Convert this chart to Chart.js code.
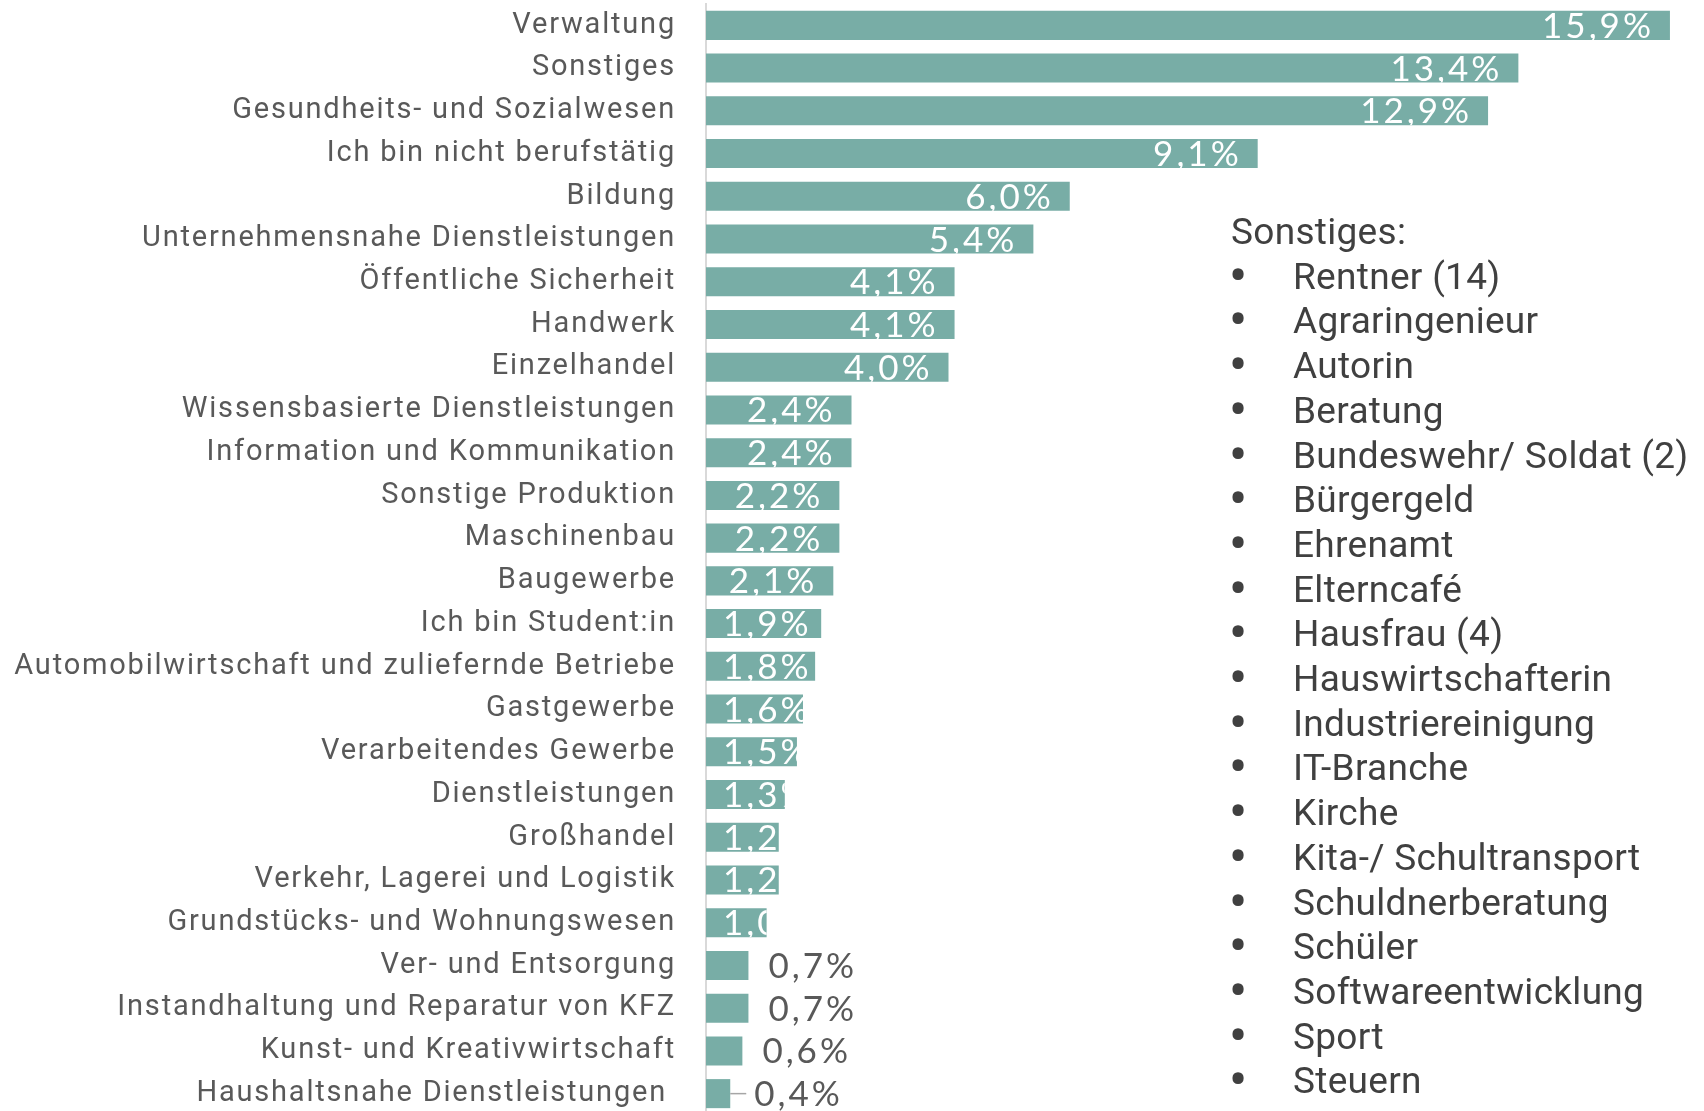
<!DOCTYPE html>
<html lang="de">
<head>
<meta charset="utf-8">
<title>Branchen</title>
<script src="https://cdn.jsdelivr.net/npm/chart.js@4.4.1/dist/chart.umd.min.js"></script>
<style>
  html, body { margin: 0; padding: 0; background: #fff; overflow: hidden; }
  #wrap { position: relative; width: 1704px; height: 1111px; }
  #chart { position: absolute; left: 0; top: 0; }
  #sonst {
    position: absolute; left: 1231px; top: 210px;
    font-family: Roboto, sans-serif; font-size: 37px; line-height: 44.7px;
    letter-spacing: 0.3px; color: #404040; white-space: nowrap;
  }
  #sonst .item { position: relative; padding-left: 62px; }
  #sonst .dot { position: absolute; left: 1px; display: inline-block; transform: scale(1.5); }
</style>
</head>
<body>
<div id="wrap">
  <canvas id="chart" width="1704" height="1118"></canvas>
  <div id="sonst"></div>
</div>
<script>
// Branchen, Anteil in %
const categories = [
  "Verwaltung",
  "Sonstiges",
  "Gesundheits- und Sozialwesen",
  "Ich bin nicht berufstätig",
  "Bildung",
  "Unternehmensnahe Dienstleistungen",
  "Öffentliche Sicherheit",
  "Handwerk",
  "Einzelhandel",
  "Wissensbasierte Dienstleistungen",
  "Information und Kommunikation",
  "Sonstige Produktion",
  "Maschinenbau",
  "Baugewerbe",
  "Ich bin Student:in",
  "Automobilwirtschaft und zuliefernde Betriebe",
  "Gastgewerbe",
  "Verarbeitendes Gewerbe",
  "Dienstleistungen",
  "Großhandel",
  "Verkehr, Lagerei und Logistik",
  "Grundstücks- und Wohnungswesen",
  "Ver- und Entsorgung",
  "Instandhaltung und Reparatur von KFZ",
  "Kunst- und Kreativwirtschaft",
  "Haushaltsnahe Dienstleistungen "
];
const shares = [15.9, 13.4, 12.9, 9.1, 6.0, 5.4, 4.1, 4.1, 4.0, 2.4, 2.4, 2.2, 2.2, 2.1,
                1.9, 1.8, 1.6, 1.5, 1.3, 1.2, 1.2, 1.0, 0.7, 0.7, 0.6, 0.4];

const otherTitle = "Sonstiges:";
const otherItems = [
  "Rentner (14)", "Agraringenieur", "Autorin", "Beratung", "Bundeswehr/ Soldat (2)",
  "Bürgergeld", "Ehrenamt", "Elterncafé", "Hausfrau (4)", "Hauswirtschafterin",
  "Industriereinigung", "IT-Branche", "Kirche", "Kita-/ Schultransport",
  "Schuldnerberatung", "Schüler", "Softwareentwicklung", "Sport", "Steuern"
];

const BAR = "#78ada6";
const GREY = "#595959";

// Sonstiges-Liste rechts als echter Text
const box = document.getElementById("sonst");
const head = document.createElement("div");
head.textContent = otherTitle;
box.appendChild(head);
otherItems.forEach(t => {
  const row = document.createElement("div");
  row.className = "item";
  const dot = document.createElement("span");
  dot.className = "dot";
  dot.textContent = "•";
  row.appendChild(dot);
  row.appendChild(document.createTextNode(t));
  box.appendChild(row);
});

const fmt = v => v.toFixed(1).replace(".", ",") + "%";

// Achsenbeschriftung leicht gesperrt wie im Original
const spacing = {
  id: "spacing",
  beforeUpdate(chart) { chart.ctx.letterSpacing = "1.8px"; },
  beforeDraw(chart) { chart.ctx.letterSpacing = "1.8px"; }
};

const valueLabels = {
  id: "valueLabels",
  afterDatasetsDraw(chart) {
    const ctx = chart.ctx;
    const meta = chart.getDatasetMeta(0);
    const base = chart.scales.x.getPixelForValue(0);
    ctx.save();
    ctx.font = "35px Lato";
    ctx.letterSpacing = "3px";
    ctx.textBaseline = "alphabetic";
    meta.data.forEach((bar, i) => {
      const v = shares[i];
      const txt = fmt(v);
      const w = ctx.measureText(txt).width;
      const y = bar.y + 12.5;
      if (v >= 1) {
        ctx.save();
        ctx.beginPath();
        ctx.rect(base, bar.y - bar.height / 2, bar.x - base, bar.height);
        ctx.clip();
        ctx.fillStyle = "#fff";
        ctx.fillText(txt, Math.max(bar.x - 16 - w, base + 17), y);
        ctx.restore();
      } else {
        let x = bar.x + 20;
        if (v < 0.5) {
          ctx.strokeStyle = "#a6a6a6";
          ctx.lineWidth = 1.5;
          ctx.beginPath();
          ctx.moveTo(bar.x, bar.y);
          ctx.lineTo(bar.x + 16, bar.y);
          ctx.stroke();
          x = bar.x + 24;
        }
        ctx.fillStyle = GREY;
        ctx.fillText(txt, x, y);
      }
    });
    ctx.restore();
  }
};

new Chart(document.getElementById("chart"), {
  type: "bar",
  data: {
    labels: categories,
    datasets: [{
      data: shares,
      backgroundColor: BAR,
      borderWidth: 0,
      barPercentage: 0.68,
      categoryPercentage: 1
    }]
  },
  options: {
    indexAxis: "y",
    responsive: false,
    devicePixelRatio: 1,
    animation: false,
    layout: { padding: { top: 4, bottom: 3, left: 0, right: 28 } },
    plugins: { legend: { display: false }, tooltip: { enabled: false } },
    scales: {
      x: { display: false, min: 0, max: 16 },
      y: {
        grid: { display: false, drawTicks: false },
        border: { display: true, color: "#d9d9d9", width: 2 },
        ticks: {
          color: GREY,
          font: { family: "Roboto", size: 29 },
          padding: 30,
          autoSkip: false,
          labelOffset: 0
        },
        afterFit(scale) {
          scale.width = 706;
          scale.paddingTop = 0;
          scale.paddingBottom = 0;
        }
      }
    }
  },
  plugins: [spacing, valueLabels]
});
</script>
</body>
</html>
